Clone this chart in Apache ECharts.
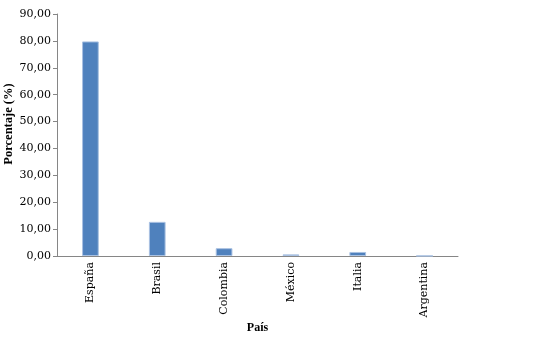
<!DOCTYPE html>
<html><head><meta charset="utf-8">
<script src="https://cdn.jsdelivr.net/npm/echarts@6/dist/echarts.min.js"></script>
<style>html,body{margin:0;padding:0;background:#fff}#c{width:543px;height:337px}</style>
</head><body><div id="c"></div>
<script>
const categories = ['España','Brasil','Colombia','México','Italia','Argentina'];
const values = [79.8, 12.7, 2.9, 0.6, 1.5, 0.05];
const yTicks = {min:0, max:90, interval:10};

const chart = echarts.init(document.getElementById('c'), null, {renderer:'canvas'});
const font = 'Liberation Serif';
const tickFont = 'DejaVu Serif';
chart.setOption({
  animation:false,
  grid:{left:57, right:85, top:14, bottom:81, containLabel:false, outerBoundsMode:'none'},
  xAxis:{
    type:'category', data:categories,
    name:'País', nameLocation:'middle', nameGap:66, nameMoveOverlap:false,
    nameTextStyle:{fontFamily:font, fontWeight:'bold', fontSize:12, color:'#000'},
    axisLine:{lineStyle:{color:'#868686', width:1}},
    axisTick:{show:false},
    axisLabel:{rotate:90, fontFamily:tickFont, fontSize:11, color:'#000', margin:6}
  },
  yAxis:{
    type:'value', min:yTicks.min, max:yTicks.max, interval:yTicks.interval,
    name:'Porcentaje (%)', nameLocation:'middle', nameGap:42, nameMoveOverlap:false,
    nameTextStyle:{fontFamily:font, fontWeight:'bold', fontSize:12.5, color:'#000', padding:[0,0,0,22]},
    axisLine:{show:true, lineStyle:{color:'#868686', width:1}},
    axisTick:{show:true, length:4, lineStyle:{color:'#868686'}},
    splitLine:{show:false},
    axisLabel:{fontFamily:tickFont, fontSize:11, color:'#000', margin:6,
      formatter:v=>v.toFixed(2).replace('.',',')}
  },
  series:[{
    type:'bar', data:values, barWidth:'25%',
    itemStyle:{color:'#4F81BD', borderColor:'#A9C1E2', borderWidth:1}
  }]
});
</script></body></html>
